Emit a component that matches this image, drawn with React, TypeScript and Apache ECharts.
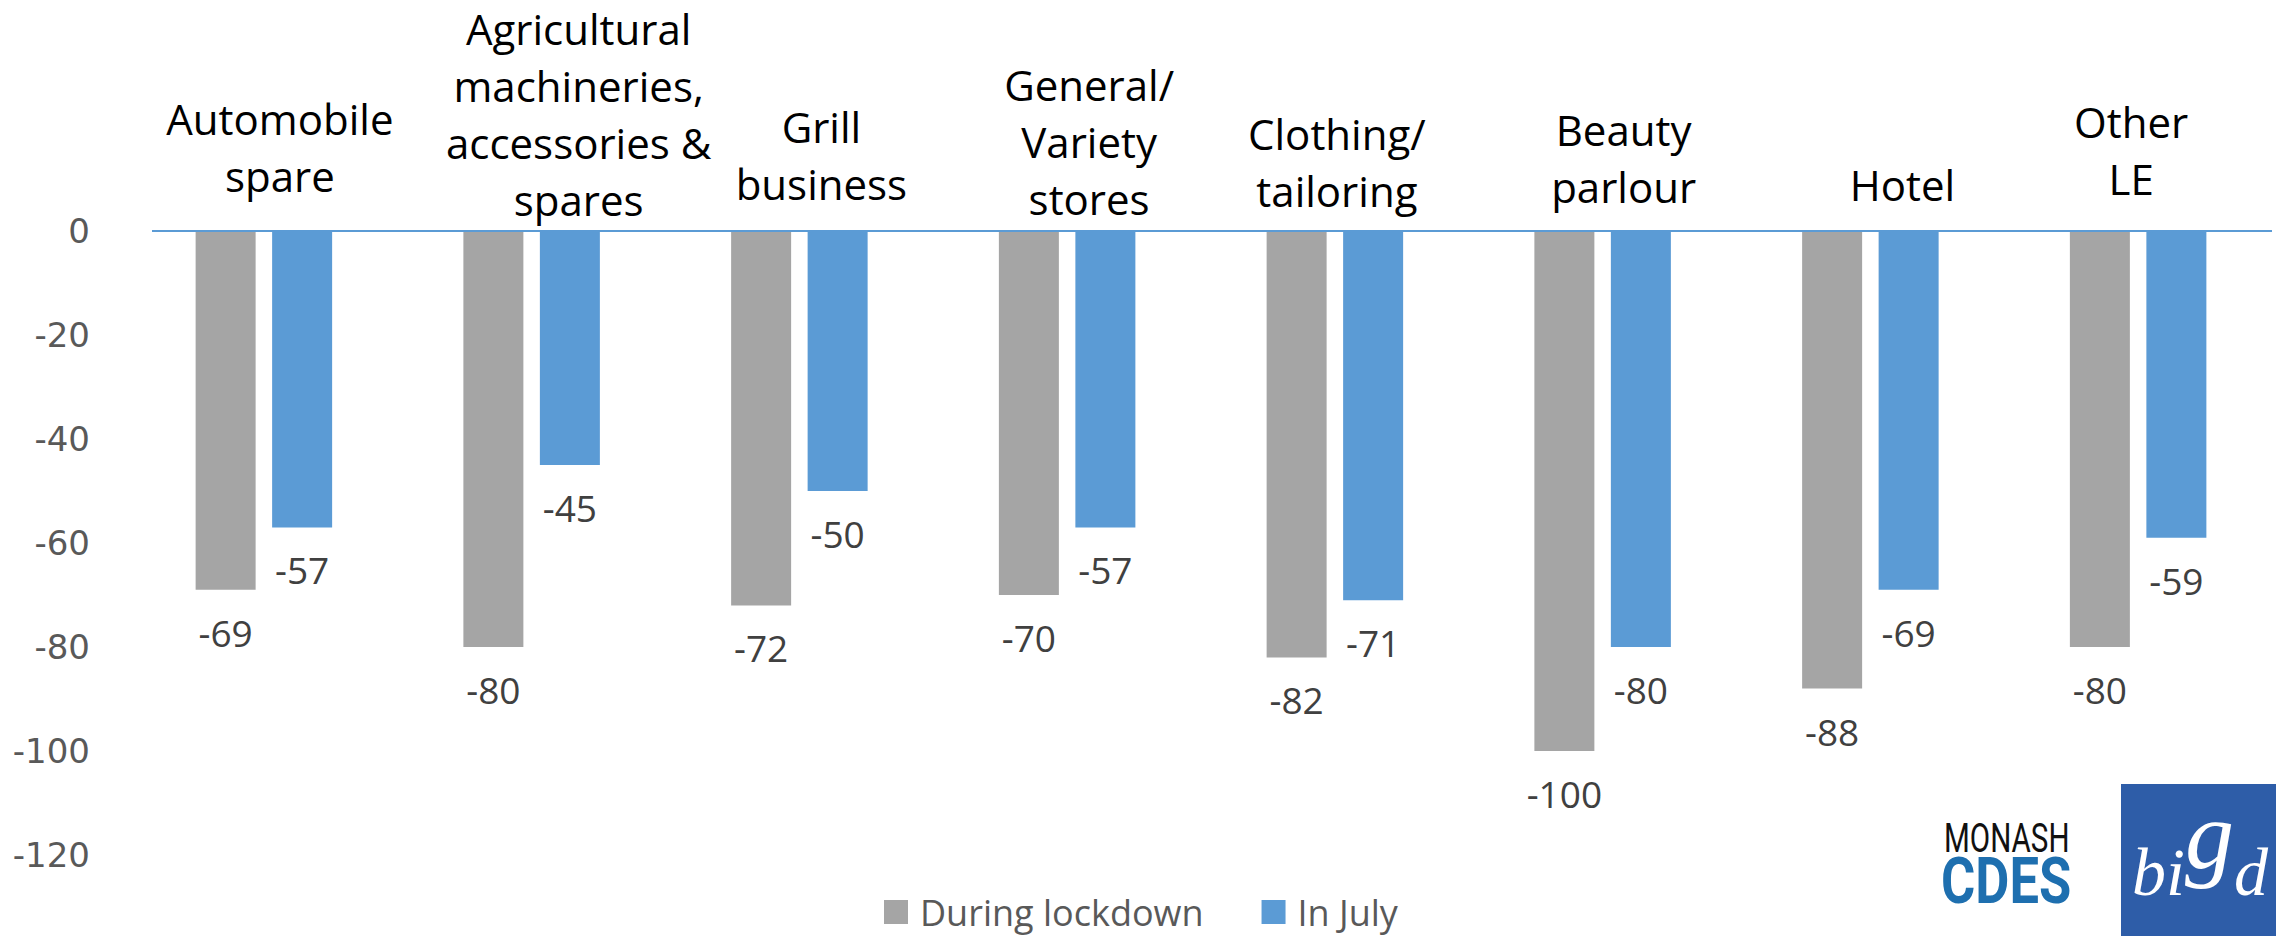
import React, { useEffect, useRef } from "react";
import * as echarts from "echarts";

const categories = [
  "Automobile\nspare",
  "Agricultural\nmachineries,\naccessories &\nspares",
  "Grill\nbusiness",
  "General/\nVariety\nstores",
  "Clothing/\ntailoring",
  "Beauty\nparlour",
  "Hotel",
  "Other\nLE",
];
const seriesNames = ["During lockdown", "In July"];
const duringLockdown = [-69, -80, -72, -70, -82, -100, -88, -80];
const inJuly = [-57, -45, -50, -57, -71, -80, -69, -59];
const yMin = -120;
const yMax = 0;
const yStep = 20;

// layout of the hand-placed category captions (pixel shift from category centre, first-line baseline)
const captionShiftX = [16, 47, 22, 22, 2, 21, 32, -7];
const captionBaseline = [132, 42, 140, 98, 147, 143, 198, 135];

export default function App() {
  const ref = useRef<HTMLDivElement>(null);
  useEffect(() => {
    if (!ref.current) return;
    const chart = echarts.init(ref.current, null, { renderer: "svg" });
    const labelStyle = {
      show: true,
      position: "bottom",
      distance: 24,
      fontFamily: "Open Sans",
      fontSize: 37,
      color: "#404040",
    };
    chart.setOption({
      animation: false,
      backgroundColor: "#ffffff",
      grid: { left: 130, right: 4, top: 231, bottom: 81, containLabel: false },
      xAxis: {
        type: "category",
        data: categories,
        axisLine: { show: false },
        axisTick: { show: false },
        axisLabel: { show: false },
        splitLine: { show: false },
      },
      yAxis: {
        type: "value",
        min: yMin,
        max: yMax,
        interval: yStep,
        axisLine: { show: false },
        axisTick: { show: false },
        splitLine: { show: false },
        axisLabel: {
          fontFamily: "DejaVu Sans",
          fontSize: 34,
          color: "#595959",
          margin: 40,
        },
      },
      legend: {
        data: seriesNames,
        left: 884,
        top: 894,
        itemWidth: 24,
        itemHeight: 24,
        itemGap: 58,
        icon: "rect",
        padding: 0,
        textStyle: {
          fontFamily: "Open Sans",
          fontSize: 36,
          lineHeight: 36,
          color: "#595959",
          padding: [0, 0, 0, 7],
        },
      },
      series: [
        {
          name: seriesNames[0],
          type: "bar",
          data: duringLockdown,
          barWidth: 60,
          barGap: "27.5%",
          itemStyle: { color: "#A5A5A5" },
          label: labelStyle,
        },
        {
          name: seriesNames[1],
          type: "bar",
          data: inJuly,
          barWidth: 60,
          barGap: "27.5%",
          itemStyle: { color: "#5B9BD5" },
          label: labelStyle,
        },
      ],
    });

    const y0 = chart.convertToPixel({ yAxisIndex: 0 }, 0) as number;
    const graphics: any[] = [
      {
        type: "line",
        shape: { x1: 152, y1: y0, x2: 2272, y2: y0 },
        style: { stroke: "#5B9BD5", lineWidth: 2 },
        z: 100,
      },
    ];
    categories.forEach((c, i) => {
      const cx = chart.convertToPixel({ xAxisIndex: 0 }, c) as number;
      graphics.push({
        type: "text",
        x: cx + captionShiftX[i],
        y: captionBaseline[i] - 42.5,
        style: {
          text: c,
          fontFamily: "Open Sans",
          fontSize: 42,
          lineHeight: 57,
          fill: "#000000",
          align: "center",
          verticalAlign: "top",
        },
      });
    });
    // logos
    graphics.push(
      {
        type: "text",
        x: 1944,
        y: 818,
        scaleX: 0.74,
        style: {
          text: "MONASH",
          fontFamily: "Roboto",
          fontSize: 40,
          fill: "#111111",
          align: "left",
          verticalAlign: "top",
        },
      },
      {
        type: "text",
        x: 1941,
        y: 849,
        scaleX: 0.82,
        style: {
          text: "CDES",
          fontFamily: "Roboto",
          fontWeight: "bold",
          fontSize: 64,
          fill: "#1E6FAF",
          align: "left",
          verticalAlign: "top",
        },
      },
      {
        type: "rect",
        shape: { x: 2121, y: 784, width: 155, height: 152 },
        style: { fill: "#2E5DA8" },
      },
      {
        type: "text",
        x: 2132,
        y: 906,
        style: {
          text: "{s|bi}{g|g}{s|d}",
          align: "left",
          verticalAlign: "bottom",
          rich: {
            s: {
              fontFamily: "Liberation Serif",
              fontStyle: "italic",
              fontSize: 68,
              lineHeight: 68,
              fill: "#ffffff",
              verticalAlign: "bottom",
            },
            g: {
              fontFamily: "Liberation Serif",
              fontStyle: "italic",
              fontSize: 98,
              lineHeight: 98,
              fill: "#ffffff",
              verticalAlign: "bottom",
              padding: [0, 0, 22, 0],
            },
          },
        },
      }
    );
    chart.setOption({ graphic: graphics });
    return () => chart.dispose();
  }, []);
  return (
    <div
      ref={ref}
      style={{ position: "absolute", left: 0, top: 0, width: 2276, height: 936 }}
    />
  );
}
